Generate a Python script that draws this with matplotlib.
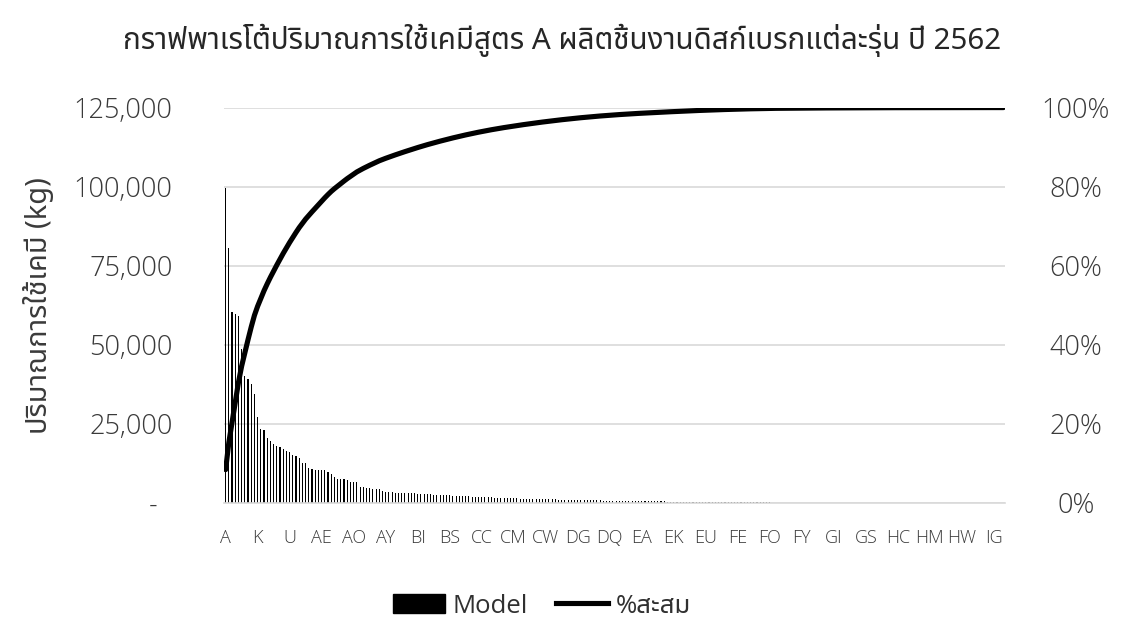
import matplotlib
matplotlib.use("Agg")
import matplotlib.pyplot as plt
from matplotlib import font_manager
from matplotlib.patches import Patch
from matplotlib.lines import Line2D
from matplotlib.ticker import FixedLocator, FuncFormatter

# Chemical A usage per model, sorted descending (kg)
usage_kg = [
    99500, 80500, 60300, 59800, 59000, 48800, 40000, 39200, 37700, 34600,
    27200, 23400, 23000, 20600, 19500, 18500, 18000, 17700, 17100, 16400,
    16000, 15300, 14800, 14300, 12800, 12600, 11000, 10700, 10500, 10500,
    10500, 10300, 9750, 9200, 8200, 7700, 7500, 7500, 7300, 6700,
    6600, 6550, 5200, 5200, 4800, 4650, 4550, 4450, 4350, 3800,
    3600, 3500, 3400, 3300, 3280, 3200, 3180, 3100, 3070, 3050,
    3000, 2900, 2850, 2800, 2700, 2650, 2600, 2550, 2500, 2450,
    2400, 2350, 2300, 2250, 2200, 2150, 2100, 2050, 2000, 1950,
    1900, 1850, 1800, 1750, 1700, 1650, 1600, 1550, 1500, 1500,
    1450, 1450, 1400, 1400, 1350, 1350, 1300, 1300, 1250, 1250,
    1200, 1200, 1150, 1150, 1100, 1100, 1050, 1050, 1000, 1000,
    950, 950, 900, 900, 850, 850, 800, 800, 750, 750,
    700, 700, 680, 660, 640, 620, 600, 580, 560, 540,
    520, 510, 500, 500, 490, 490, 480, 480, 470, 470,
    460, 460, 450, 440, 430, 420, 410, 400, 390, 380,
    370, 360, 350, 340, 330, 320, 310, 300, 290, 280,
    270, 260, 250, 240, 230, 220, 210, 200, 190, 180,
    170, 150, 130, 90, 90, 85, 80, 80, 75, 75,
    70, 70, 65, 65, 60, 60, 58, 55, 55, 52,
    50, 50, 48, 45, 45, 42, 40, 40, 38, 36,
    35, 34, 32, 30, 30, 28, 27, 25, 24, 22,
    21, 20, 20, 18, 17, 16, 15, 15, 14, 13,
    12, 12, 11, 10, 10, 9, 9, 8, 8, 7,
    7, 6, 6, 5, 5, 5, 4, 4, 3, 3,
    3, 2, 2, 1,
]

title_text = "กราฟพาเรโต้ปริมาณการใช้เคมีสูตร A ผลิตชิ้นงานดิสก์เบรกแต่ละรุ่น ปี 2562"
y_label = "ปริมาณการใช้เคมี (kg)"
bar_name = "Model"
line_name = "%สะสม"
y_ticks = [0, 25000, 50000, 75000, 100000, 125000]
pct_ticks = [0.0, 0.2, 0.4, 0.6, 0.8, 1.0]
label_step = 10


def column_name(i):
    name = ""
    i += 1
    while i > 0:
        i, r = divmod(i - 1, 26)
        name = chr(65 + r) + name
    return name


models = [column_name(i) for i in range(len(usage_kg))]


def find_thai_family():
    try:
        from fontTools.ttLib import TTFont
    except Exception:
        return None
    preferred = ["Noto Sans Thai", "Noto Sans Thai Looped", "Sarabun", "Leelawadee UI",
                 "Tahoma", "Loma", "Garuda", "Waree", "Umpush", "Norasi", "Kinnari"]
    found = []
    for f in font_manager.fontManager.ttflist:
        try:
            tt = TTFont(f.fname, fontNumber=0, lazy=True)
            cmap = tt.getBestCmap() or {}
            if 0x0E01 in cmap and 0x0E2A in cmap and 0x0E49 in cmap:
                found.append(f.name)
        except Exception:
            continue
    for p in preferred:
        if p in found:
            return p
    return found[0] if found else None


thai = find_thai_family()
latin = "Open Sans"
thai_fam = ([thai] if thai else []) + ["DejaVu Sans"]
mixed_fam = [latin] + ([thai] if thai else []) + ["DejaVu Sans"]

plt.rcParams["font.family"] = [latin, "DejaVu Sans"]
plt.rcParams["font.weight"] = "light"

total = float(sum(usage_kg))
cum_pct = []
running = 0.0
for v in usage_kg:
    running += v
    cum_pct.append(running / total)

x = list(range(len(usage_kg)))

fig = plt.figure(figsize=(11.28, 6.19), dpi=100)
ax = fig.add_axes([0.1986, 0.1874, 0.6924, 0.6388])

text_col = "#3a3a3a"
grid_col = "#d9d9d9"

ax.bar(x, usage_kg, width=0.35, color="black", linewidth=0, zorder=2)
ax.set_xlim(-0.5, len(usage_kg) - 0.5)
ax.set_ylim(0, 125000)
ax.yaxis.set_major_locator(FixedLocator(y_ticks))
ax.yaxis.set_major_formatter(FuncFormatter(
    lambda v, p: "-\u2007" if v == 0 else f"{int(v):,}"))
ax.yaxis.grid(True, color=grid_col, linewidth=1.2, zorder=0)
ax.set_axisbelow(True)

tick_pos = list(range(0, len(usage_kg), label_step))
ax.set_xticks(tick_pos)
ax.set_xticklabels([models[i] for i in tick_pos])

for s in ["top", "right", "left"]:
    ax.spines[s].set_visible(False)
ax.spines["bottom"].set_color(grid_col)
ax.spines["bottom"].set_linewidth(1.2)

ax.tick_params(axis="y", length=0, pad=37, labelsize=19.5, labelcolor=text_col)
ax.tick_params(axis="x", length=0, pad=19, labelsize=13, labelcolor=text_col)

ax.set_ylabel(y_label, family=thai_fam, fontsize=20.8, color=text_col)
ax.yaxis.set_label_coords(-0.218, 0.5)

ax2 = ax.twinx()
ax2.plot(x, cum_pct, color="black", linewidth=3.7, solid_capstyle="round", zorder=3)
ax2.set_ylim(0, 1.0)
ax2.yaxis.set_major_locator(FixedLocator(pct_ticks))
ax2.yaxis.set_major_formatter(FuncFormatter(lambda v, p: f"{v:.0%}"))
for s in ["top", "right", "left", "bottom"]:
    ax2.spines[s].set_visible(False)
ax2.tick_params(axis="y", length=0, pad=51, labelsize=19.5, labelcolor=text_col)
for lab in ax2.get_yticklabels():
    lab.set_horizontalalignment("center")

fig.text(0.498, 0.935, title_text, ha="center", va="center",
         fontsize=21.3, color="#262626", family=thai_fam)

handles = [Patch(facecolor="black", edgecolor="black"),
           Line2D([0], [0], color="black", linewidth=3.7)]
fig.legend(handles, [bar_name, line_name], loc="center", bbox_to_anchor=(0.4805, 0.021),
           ncol=2, frameon=False,
           prop={"family": mixed_fam, "size": 18.5, "weight": "normal"},
           handlelength=2.0, handleheight=0.75, handletextpad=0.3,
           columnspacing=1.1, labelcolor="#303030")

fig.savefig("out.png", dpi=100)
